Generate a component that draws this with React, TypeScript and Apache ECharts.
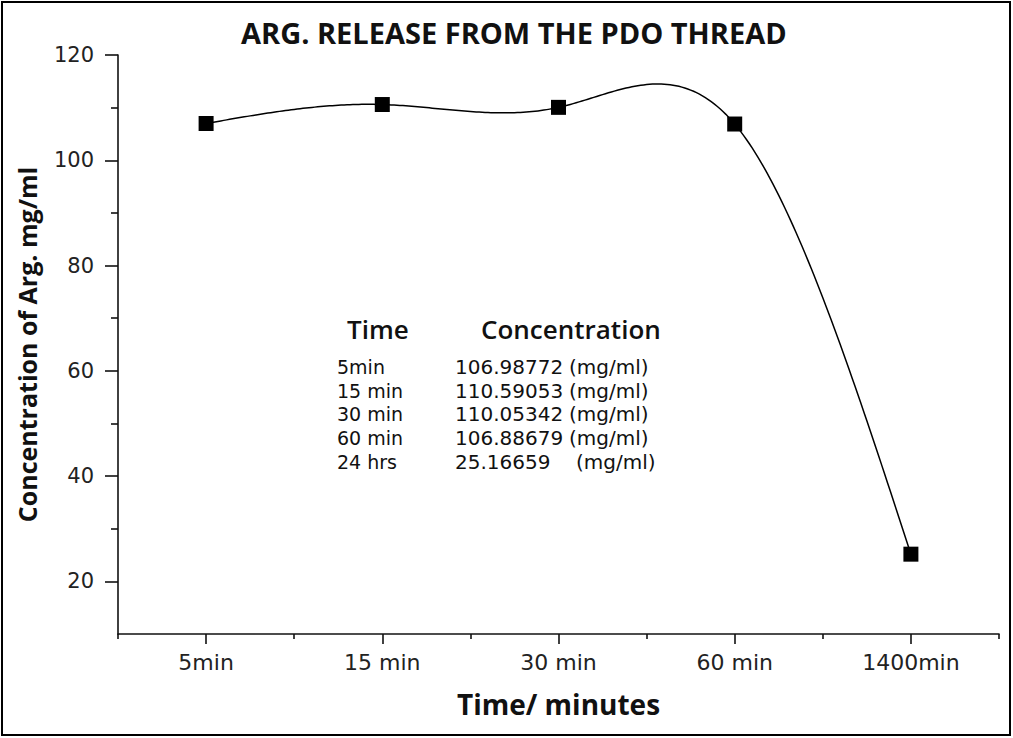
import { useEffect, useRef } from "react";
import * as echarts from "echarts";

const titleText = "ARG. RELEASE FROM THE PDO THREAD";
const xAxisName = "Time/ minutes";
const yAxisName = "Concentration of Arg. mg/ml";
const categories = ["5min", "15 min", "30 min", "60 min", "1400min"];
const concentration = [106.98772, 110.59053, 110.05342, 106.88679, 25.16659];
const yMajorTicks = [20, 40, 60, 80, 100, 120];
const yMinorTicks = [30, 50, 70, 90, 110];
const tableHeaders = ["Time", "Concentration"];
const tableTimes = ["5min", "15 min", "30 min", "60 min", "24 hrs"];
const tableValues = ["106.98772", "110.59053", "110.05342", "106.88679", "25.16659"];
const tableUnits = ["(mg/ml)", "(mg/ml)", "(mg/ml)", "(mg/ml)", "(mg/ml)"];

// second derivatives of a natural cubic spline through equally spaced values
function splineSecondDerivs(y: number[]): number[] {
  const n = y.length;
  const M = new Array(n).fill(0);
  if (n < 3) return M;
  const a: number[] = [], b: number[] = [], c: number[] = [], d: number[] = [];
  for (let i = 1; i < n - 1; i++) {
    a.push(1);
    b.push(4);
    c.push(1);
    d.push(6 * (y[i + 1] - 2 * y[i] + y[i - 1]));
  }
  const m = d.length;
  for (let i = 1; i < m; i++) {
    const w = a[i] / b[i - 1];
    b[i] -= w * c[i - 1];
    d[i] -= w * d[i - 1];
  }
  const sol = new Array(m).fill(0);
  sol[m - 1] = d[m - 1] / b[m - 1];
  for (let i = m - 2; i >= 0; i--) sol[i] = (d[i] - c[i] * sol[i + 1]) / b[i];
  for (let i = 0; i < m; i++) M[i + 1] = sol[i];
  return M;
}

export default function App() {
  const ref = useRef<HTMLDivElement>(null);
  useEffect(() => {
    if (!ref.current) return;
    const chart = echarts.init(ref.current, undefined, { renderer: "svg" });
    const axisColor = "#111";
    const tickFont = "DejaVu Sans";
    const boldFont = "Open Sans";

    const rowY0 = 367;
    const rowStep = 23.7;
    const tableGraphics: any[] = [];
    tableGraphics.push({
      type: "text",
      x: 347,
      y: 329,
      style: { text: tableHeaders[0], font: `600 26px "${boldFont}"`, fill: "#111", textVerticalAlign: "middle" },
    });
    tableGraphics.push({
      type: "text",
      x: 481,
      y: 329,
      style: { text: tableHeaders[1], font: `600 26px "${boldFont}"`, fill: "#111", textVerticalAlign: "middle" },
    });
    tableTimes.forEach((t, i) => {
      const y = rowY0 + i * rowStep;
      tableGraphics.push({
        type: "text",
        x: 337,
        y,
        style: { text: t, font: `19px "${tickFont}"`, fill: "#111", textVerticalAlign: "middle" },
      });
      tableGraphics.push({
        type: "text",
        x: 455,
        y,
        style: { text: tableValues[i], font: `20px "${tickFont}"`, fill: "#111", textVerticalAlign: "middle" },
      });
      tableGraphics.push({
        type: "text",
        x: i === 4 ? 576 : 569,
        y,
        style: { text: tableUnits[i], font: `20px "${tickFont}"`, fill: "#111", textVerticalAlign: "middle" },
      });
    });

    const M = splineSecondDerivs(concentration);
    const seriesData = concentration.map((v, i) => [i, v]);

    chart.setOption({
      animation: false,
      backgroundColor: "#fff",
      title: {
        text: titleText,
        left: 236,
        top: 13,
        textStyle: { fontFamily: boldFont, fontWeight: 700, fontSize: 29, color: "#111" },
      },
      grid: { left: 118, right: 14, top: 55, bottom: 104, containLabel: false, outerBoundsMode: "none" },
      xAxis: [
        {
          type: "category",
          data: categories,
          boundaryGap: true,
          position: "bottom",
          name: xAxisName,
          nameLocation: "middle",
          nameGap: 56,
          nameTextStyle: { fontFamily: boldFont, fontWeight: 700, fontSize: 28, color: "#111" },
          axisLine: { show: true, lineStyle: { color: axisColor, width: 1.6 } },
          axisTick: { show: true, alignWithLabel: true, length: 10, lineStyle: { color: axisColor, width: 1.6 } },
          axisLabel: { fontFamily: tickFont, fontSize: 22, color: "#222", margin: 17 },
          splitLine: { show: false },
        },
        {
          type: "category",
          data: categories,
          boundaryGap: true,
          position: "bottom",
          axisLine: { show: false },
          axisTick: { show: true, length: 5, lineStyle: { color: axisColor, width: 1.6 } },
          axisLabel: { show: false },
          splitLine: { show: false },
        },
      ],
      yAxis: [
        {
          type: "value",
          min: 10,
          max: 120,
          position: "left",
          name: yAxisName,
          nameLocation: "middle",
          nameGap: 79,
          nameTextStyle: { fontFamily: boldFont, fontWeight: 700, fontSize: 25, color: "#111" },
          axisLine: { show: true, lineStyle: { color: axisColor, width: 1.6 } },
          axisTick: { show: true, length: 13, customValues: yMajorTicks, lineStyle: { color: axisColor, width: 1.6 } },
          axisLabel: { customValues: yMajorTicks, fontFamily: tickFont, fontSize: 21, color: "#222", margin: 24 },
          splitLine: { show: false },
        },
        {
          type: "value",
          min: 10,
          max: 120,
          position: "left",
          axisLine: { show: false },
          axisTick: { show: true, length: 7, customValues: yMinorTicks, lineStyle: { color: axisColor, width: 1.6 } },
          axisLabel: { show: false },
          splitLine: { show: false },
        },
      ],
      series: [
        {
          type: "custom",
          xAxisIndex: 0,
          yAxisIndex: 0,
          data: seriesData,
          encode: { x: 0, y: 1 },
          silent: true,
          renderItem: (params: any, api: any) => {
            if (params.dataIndex !== 0) return null;
            const p0 = api.coord([0, concentration[0]]);
            const p1 = api.coord([1, concentration[0]]);
            const step = p1[0] - p0[0];
            const pts: number[][] = [];
            const n = concentration.length;
            const steps = 60;
            for (let i = 0; i < n - 1; i++) {
              for (let k = i === 0 ? 0 : 1; k <= steps; k++) {
                const t = k / steps;
                const u = 1 - t;
                const yv =
                  u * concentration[i] +
                  t * concentration[i + 1] +
                  ((u * u * u - u) * M[i]) / 6 +
                  ((t * t * t - t) * M[i + 1]) / 6;
                const px = p0[0] + (i + t) * step;
                const py = api.coord([0, yv])[1];
                pts.push([px, py]);
              }
            }
            return {
              type: "polyline",
              shape: { points: pts },
              style: { stroke: "#000", lineWidth: 1.5, fill: "none" },
            };
          },
          z: 2,
        },
        {
          type: "scatter",
          xAxisIndex: 0,
          yAxisIndex: 0,
          data: seriesData,
          symbol: "rect",
          symbolSize: 15,
          itemStyle: { color: "#000", opacity: 1 },
          z: 3,
        },
      ],
      graphic: [
        {
          type: "rect",
          shape: { x: 2, y: 2, width: 1008, height: 733 },
          style: { fill: "none", stroke: "#000", lineWidth: 2 },
          silent: true,
        },
        ...tableGraphics,
      ],
    });
    return () => chart.dispose();
  }, []);
  return (
    <div
      ref={ref}
      style={{ position: "fixed", left: 0, top: 0, width: 1013, height: 738, background: "#fff" }}
    />
  );
}
